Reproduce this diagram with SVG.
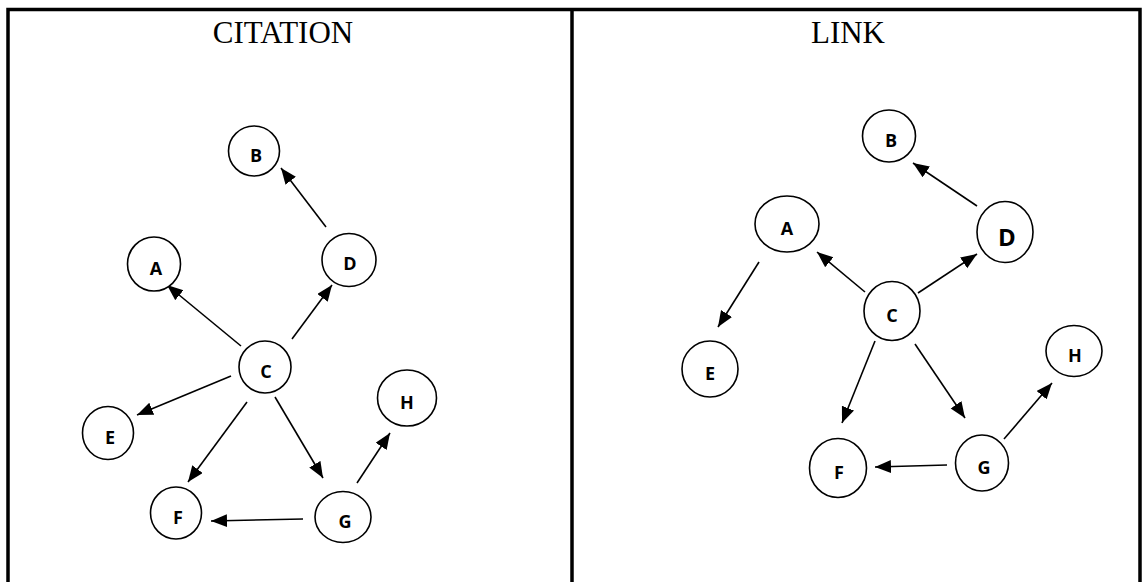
<svg xmlns="http://www.w3.org/2000/svg" width="1145" height="582" viewBox="0 0 1145 582">
<style>
.frame{fill:none;stroke:#000;stroke-width:3.5}
.node ellipse{fill:#fff;stroke:#000;stroke-width:1.6}
.node text{font-family:"Open Sans","Liberation Sans",Arial,sans-serif;font-weight:bold;font-size:18px;text-anchor:middle;fill:#000}
.title{font-family:"Liberation Serif","Times New Roman",serif;font-size:31px;text-anchor:middle;fill:#000}
.edges line{stroke:#000;stroke-width:1.6;marker-end:url(#arr)}
</style>
<defs>
<marker id="arr" markerUnits="userSpaceOnUse" markerWidth="17" markerHeight="14" refX="16" refY="6.5" orient="auto">
<path d="M0,0 L16,6.5 L0,13 z" fill="#000"/>
</marker>
</defs>
<rect width="1145" height="582" fill="#fff"/>
<g id="frame">
<path class="frame" d="M8,585 L8,9.5 L1140,9.5 L1140,585"/>
<line class="frame" x1="572" y1="9" x2="572" y2="585"/>
</g>
<text class="title" x="283" y="43">CITATION</text>
<text class="title" x="848" y="43">LINK</text>
<g class="edges" id="connectors">
<line x1="326" y1="227" x2="281" y2="168"/>
<line x1="241" y1="346" x2="167" y2="285"/>
<line x1="292" y1="339" x2="332" y2="285"/>
<line x1="231" y1="376" x2="137" y2="415"/>
<line x1="247" y1="402" x2="188" y2="482"/>
<line x1="275" y1="397" x2="323" y2="478"/>
<line x1="357" y1="483" x2="390" y2="433"/>
<line x1="303" y1="519" x2="211" y2="521"/>
<line x1="977" y1="206" x2="913" y2="163"/>
<line x1="865" y1="292" x2="817" y2="252"/>
<line x1="918" y1="293" x2="977" y2="254"/>
<line x1="759" y1="262" x2="718" y2="327"/>
<line x1="875" y1="341" x2="842" y2="423"/>
<line x1="915" y1="344" x2="965" y2="418"/>
<line x1="1004" y1="439" x2="1052" y2="383"/>
<line x1="947" y1="465" x2="875" y2="467"/>
</g>
<g id="cit-B" class="node"><ellipse cx="254" cy="151" rx="25.5" ry="25"/><text x="256" y="162">B</text></g>
<g id="cit-A" class="node"><ellipse cx="154" cy="264" rx="26.5" ry="27"/><text x="156" y="274.5">A</text></g>
<g id="cit-D" class="node"><ellipse cx="349" cy="260" rx="27" ry="26.5"/><text x="350" y="270">D</text></g>
<g id="cit-C" class="node"><ellipse cx="265" cy="367" rx="26" ry="26"/><text x="266" y="377.5">C</text></g>
<g id="cit-E" class="node"><ellipse cx="108" cy="433" rx="25.5" ry="26.5"/><text x="110" y="443.5">E</text></g>
<g id="cit-H" class="node"><ellipse cx="407" cy="398" rx="29.5" ry="28"/><text x="407" y="408.5">H</text></g>
<g id="cit-F" class="node"><ellipse cx="176" cy="513" rx="25.5" ry="26"/><text x="178" y="523.5">F</text></g>
<g id="cit-G" class="node"><ellipse cx="343" cy="517" rx="28" ry="25.5"/><text x="345" y="527.5">G</text></g>
<g id="link-B" class="node"><ellipse cx="889" cy="136" rx="26.5" ry="26"/><text x="891" y="146.5">B</text></g>
<g id="link-A" class="node"><ellipse cx="787" cy="224" rx="32" ry="28"/><text x="787" y="234.5">A</text></g>
<g id="link-D" class="node"><ellipse cx="1005" cy="232" rx="28" ry="30.5"/><text x="1007" y="246" style="font-size:24px">D</text></g>
<g id="link-C" class="node"><ellipse cx="892" cy="311" rx="28" ry="29.5"/><text x="892" y="321.5">C</text></g>
<g id="link-E" class="node"><ellipse cx="710" cy="369" rx="28" ry="28"/><text x="710" y="379.5">E</text></g>
<g id="link-H" class="node"><ellipse cx="1074" cy="351" rx="28" ry="25.5"/><text x="1075" y="361.5">H</text></g>
<g id="link-F" class="node"><ellipse cx="838" cy="468" rx="28.5" ry="29.5"/><text x="839" y="478.5">F</text></g>
<g id="link-G" class="node"><ellipse cx="982" cy="463" rx="26.5" ry="28"/><text x="984" y="473.5">G</text></g>
</svg>
